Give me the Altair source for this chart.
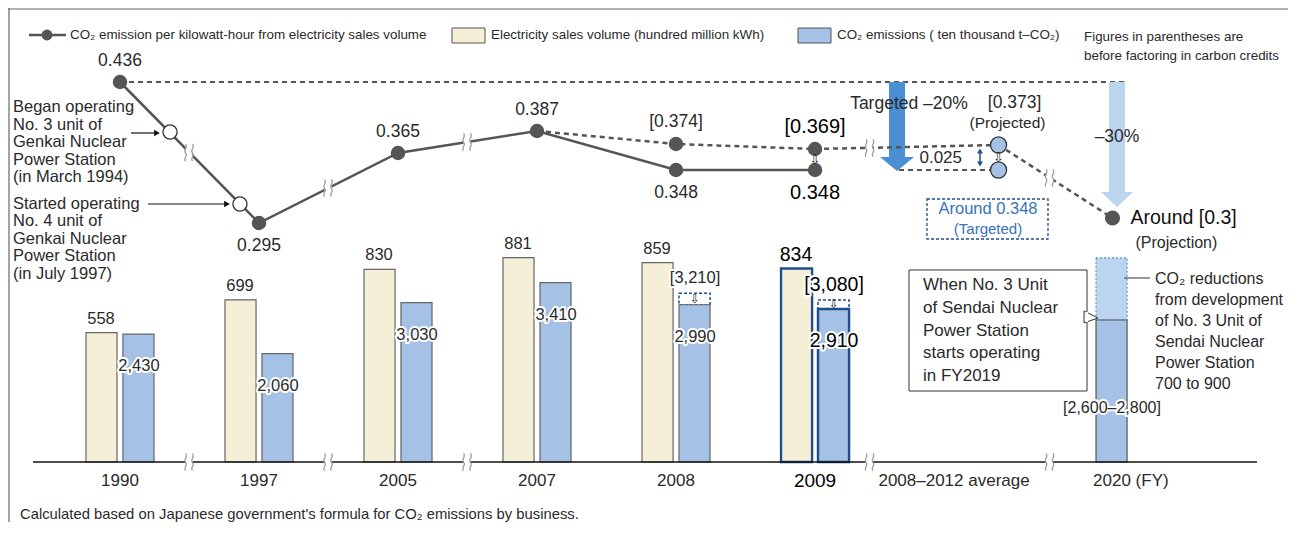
import altair as alt
import pandas as pd

# ------------------------------------------------------------------ data
groups = ["1990", "1997", "2005", "2007", "2008", "2009",
          "2008–2012 average", "2020"]
axis_labels = ["1990", "1997", "2005", "2007", "2008", "2009",
               "2008–2012 average", "2020 (FY)"]

hist_years = ["1990", "1997", "2005", "2007", "2008", "2009"]
intensity = [0.436, 0.295, 0.365, 0.387, 0.348, 0.348]          # kg-CO2 / kWh
sales_volume = [558, 699, 830, 881, 859, 834]                    # 100 million kWh
co2_emissions = [2430, 2060, 3030, 3410, 2990, 2910]             # 10 thousand t-CO2

credit_years = ["2007", "2008", "2009"]
intensity_before_credits = [0.387, 0.374, 0.369]
co2_credit_years = ["2008", "2009"]
co2_before_credits = [3210, 3080]

avg_group = "2008–2012 average"
avg_projected = 0.373
avg_targeted = 0.348
group_2020 = "2020"
intensity_2020 = 0.3
co2_2020 = 2700
co2_2020_before_sendai = 3880

milestone_groups = ["1990", "1997"]
milestone_values = [0.386, 0.314]

# ------------------------------------------------------------------ layout / style
W, H = 1280, 514
FONT = "Liberation Sans"
SYM = "DejaVu Sans"
INK = "#2a2a2a"
LINE = "#555555"
BEIGE = "#f5efd8"
BLUE = "#a5c1e5"
NAVY = "#1f4e8c"
AVG_BP = 0.82
P20_BP = 0.64

BASE = 454          # plot-y of the bar baseline
LINE_PX = 1000.0    # px per kg-CO2/kWh
SALES_PX = 0.232    # px per 100 million kWh
CO2_PX = 0.0526     # px per 10 thousand t

X = alt.Scale(type="band", domain=groups, paddingInner=0, paddingOuter=0.604, align=0.253)
XOFF = alt.Scale(domain=["sales", "co2"], paddingInner=0.16, paddingOuter=0.96)
_l1 = 0.436 + 74 / LINE_PX
Y_LINE = alt.Scale(domain=[_l1 - H / LINE_PX, _l1], nice=False, zero=False)
_s0 = -(H - BASE) / SALES_PX
Y_SALES = alt.Scale(domain=[_s0, _s0 + H / SALES_PX], nice=False, zero=False)
_c0 = -(H - BASE) / CO2_PX
Y_CO2 = alt.Scale(domain=[_c0, _c0 + H / CO2_PX], nice=False, zero=False)

ONE = pd.DataFrame({"k": [0]})
hl = "datum.group == '2009'"


def px(x):
    return x - 8


def py(y):
    return y - 8


def xg(field="group", bp=None):
    kw = dict(scale=X, axis=None)
    if bp is not None:
        kw["bandPosition"] = bp
    return alt.X(f"{field}:N", **kw)


def yl(field="value"):
    return alt.Y(f"{field}:Q", scale=Y_LINE, axis=None)


def note(text, x, y, size=17, align="left", color=INK, lh=None, font=FONT,
         baseline="middle", halo=False):
    kw = dict(text=text, align=align, baseline=baseline, fontSize=size,
              color=color, font=font)
    if "\n" in text:
        kw["lineBreak"] = "\n"
        if lh:
            kw["lineHeight"] = lh
    if halo:
        kw.update(stroke="white", strokeWidth=4, strokeJoin="round", color="white")
    return alt.Chart(ONE).mark_text(**kw).encode(x=alt.value(px(x)), y=alt.value(py(y)))


def rect(x0, y0, x1, y1, **kw):
    return alt.Chart(ONE).mark_rect(**kw).encode(
        x=alt.value(px(x0)), x2=alt.value(px(x1)),
        y=alt.value(py(y0)), y2=alt.value(py(y1)))


def hrule(x0, x1, y, **kw):
    return alt.Chart(ONE).mark_rule(**kw).encode(
        x=alt.value(px(x0)), x2=alt.value(px(x1)), y=alt.value(py(y)))


def sym(x, y, shape, size, **kw):
    kw.setdefault("opacity", 1)
    return alt.Chart(ONE).mark_point(shape=shape, size=size, **kw).encode(
        x=alt.value(px(x)), y=alt.value(py(y)))


def arrow_shape(total, shaft_half, head_half, head_len):
    u = total / 2
    a, b, c = shaft_half / u, head_half / u, 1 - head_len / u
    return (f"M{-a:.3f},-1L{a:.3f},-1L{a:.3f},{c:.3f}L{b:.3f},{c:.3f}"
            f"L0,1L{-b:.3f},{c:.3f}L{-a:.3f},{c:.3f}Z")


WAVES = ("M-0.45,-1C-0.1,-0.6,-0.8,-0.25,-0.45,0.05C-0.1,0.35,-0.8,0.7,-0.45,1"
         "M0.35,-1C0.7,-0.6,0,-0.25,0.35,0.05C0.7,0.35,0,0.7,0.35,1")
GAP = "M-0.45,-0.75L0.35,-0.75L0.35,0.75L-0.45,0.75Z"

L = []

# frame
L.append(alt.Chart(ONE).mark_rule(color="#666", strokeWidth=1.2).encode(
    x=alt.value(0), x2=alt.value(W), y=alt.value(1)))
L.append(alt.Chart(ONE).mark_rule(color="#666", strokeWidth=1.2).encode(
    x=alt.value(1), y=alt.value(0), y2=alt.value(H)))

# legend
L.append(hrule(29, 66, 35, color=LINE, strokeWidth=2.5))
L.append(sym(47, 35, "circle", 120, filled=True, color=LINE))
L.append(note("CO₂ emission per kilowatt-hour from electricity sales volume", 70, 35, size=13.4))
L.append(rect(452, 28, 485, 43, fill=BEIGE, stroke="#555", strokeWidth=1))
L.append(note("Electricity sales volume (hundred million kWh)", 491, 35, size=13.4))
L.append(rect(798, 28, 831, 43, fill=BLUE, stroke="#555", strokeWidth=1))
L.append(note("CO₂ emissions ( ten thousand t–CO₂)", 837, 35, size=13.4))
L.append(note("Figures in parentheses are\nbefore factoring in carbon credits", 1084, 29.5,
              size=13.4, lh=19, baseline="top"))

# reference level 1990 (dashed)
base_df = pd.DataFrame({"group": [hist_years[0]], "value": [intensity[0]]})
L.append(alt.Chart(base_df).mark_rule(color=LINE, strokeWidth=2.2, strokeDash=[5, 4])
         .encode(x=xg(), x2=alt.value(px(1125)), y=yl()))

# big arrows
L.append(sym(897, 126.5, arrow_shape(89, 8, 17, 14), 89 ** 2, filled=True,
             color="#4a8fd2", strokeWidth=0))
L.append(sym(1117, 144.5, arrow_shape(125, 8, 16, 15), 125 ** 2, filled=True,
             color="#bcd5ef", strokeWidth=0))

# targeted level dashed
tgt_df = pd.DataFrame({"value": [avg_targeted]})
L.append(alt.Chart(tgt_df).mark_rule(color=LINE, strokeWidth=2.2, strokeDash=[5, 4])
         .encode(x=alt.value(px(899)), x2=alt.value(px(990)), y=yl()))

# bars
sales_df = pd.DataFrame({"group": hist_years, "value": sales_volume})
co2_df = pd.DataFrame({"group": hist_years, "value": co2_emissions})
cb_df = pd.DataFrame({"group": co2_credit_years, "hi": co2_before_credits,
                      "lo": [co2_emissions[hist_years.index(g)] for g in co2_credit_years]})

L.append(alt.Chart(sales_df).transform_calculate(series="'sales'").mark_bar(fill=BEIGE).encode(
    x=xg(), xOffset=alt.XOffset("series:N", scale=XOFF),
    y=alt.Y("value:Q", scale=Y_SALES, axis=None), y2=alt.datum(0),
    stroke=alt.condition(hl, alt.value(NAVY), alt.value("#666")),
    strokeWidth=alt.condition(hl, alt.value(2.4), alt.value(1.2))))
L.append(alt.Chart(cb_df).transform_calculate(series="'co2'").mark_bar(
    fill="white", stroke=NAVY, strokeWidth=1.5, strokeDash=[3, 2]).encode(
    x=xg(), xOffset=alt.XOffset("series:N", scale=XOFF),
    y=alt.Y("hi:Q", scale=Y_CO2, axis=None), y2="lo:Q"))
L.append(alt.Chart(co2_df).transform_calculate(series="'co2'").mark_bar(fill=BLUE).encode(
    x=xg(), xOffset=alt.XOffset("series:N", scale=XOFF),
    y=alt.Y("value:Q", scale=Y_CO2, axis=None), y2=alt.datum(0),
    stroke=alt.condition(hl, alt.value(NAVY), alt.value("#666")),
    strokeWidth=alt.condition(hl, alt.value(2.4), alt.value(1.2))))
L.append(alt.Chart(cb_df).transform_calculate(mid="(datum.hi + datum.lo) / 2").mark_text(
    text="⇩", font=SYM, fontSize=12, color="#222", dx=19, baseline="middle").encode(
    x=xg(), y=alt.Y("mid:Q", scale=Y_CO2, axis=None)))

b20 = pd.DataFrame({"group": [group_2020], "value": [co2_2020], "top": [co2_2020_before_sendai]})
L.append(alt.Chart(b20).transform_calculate(series="'co2'").mark_bar(
    fill="#bcd5ef", stroke="#5b93d6", strokeDash=[2, 2], strokeWidth=1.2).encode(
    x=xg(), xOffset=alt.XOffset("series:N", scale=XOFF),
    y=alt.Y("top:Q", scale=Y_CO2, axis=None), y2="value:Q"))
L.append(alt.Chart(b20).transform_calculate(series="'co2'").mark_bar(
    fill=BLUE, stroke="#555", strokeWidth=1.2).encode(
    x=xg(), xOffset=alt.XOffset("series:N", scale=XOFF),
    y=alt.Y("value:Q", scale=Y_CO2, axis=None), y2=alt.datum(0)))

# axis baseline
L.append(hrule(33, 1257, 462, color="#111", strokeWidth=1.5))

# lines
line_df = pd.DataFrame({"group": hist_years, "value": intensity})
credit_df = pd.DataFrame({"group": credit_years, "value": intensity_before_credits})
L.append(alt.Chart(line_df).mark_line(color=LINE, strokeWidth=2.5).encode(x=xg(), y=yl()))
L.append(alt.Chart(credit_df).mark_line(color=LINE, strokeWidth=2.5, strokeDash=[5, 4])
         .encode(x=xg(), y=yl()))
seg1 = pd.DataFrame({"g1": [credit_years[-1]], "v1": [intensity_before_credits[-1]],
                     "g2": [avg_group], "v2": [avg_projected]})
seg2 = pd.DataFrame({"g1": [avg_group], "v1": [avg_projected],
                     "g2": [group_2020], "v2": [intensity_2020]})
L.append(alt.Chart(seg1).mark_rule(color=LINE, strokeWidth=2.5, strokeDash=[5, 4]).encode(
    x=xg("g1"), x2=alt.X2("g2:N", bandPosition=AVG_BP), y=yl("v1"), y2=alt.Y2("v2:Q")))
L.append(alt.Chart(seg2).mark_rule(color=LINE, strokeWidth=2.5, strokeDash=[5, 4]).encode(
    x=xg("g1", AVG_BP), x2=alt.X2("g2:N", bandPosition=P20_BP), y=yl("v1"), y2=alt.Y2("v2:Q")))

# break marks (wavy double strokes with a white gap)
for bx, by in [(189.5, 152.5), (328.5, 188), (467.5, 142), (870, 148), (1050, 178),
               (189.5, 462), (328.5, 462), (467.5, 462), (870, 462), (1050, 462)]:
    L.append(sym(bx, by, GAP, 300, filled=True, color="white", strokeWidth=0))
    L.append(sym(bx, by, WAVES, 300, filled=False, color="#9a9a9a", strokeWidth=1.2))

# points
L.append(alt.Chart(line_df).mark_circle(size=210, color=LINE, opacity=1).encode(x=xg(), y=yl()))
L.append(alt.Chart(credit_df).transform_filter("datum.group != '2007'")
         .mark_circle(size=210, color=LINE, opacity=1).encode(x=xg(), y=yl()))
ms_df = pd.DataFrame({"group": milestone_groups, "value": milestone_values})
for g, bp in [("1990", 0.86), ("1997", 0.363)]:
    L.append(alt.Chart(ms_df).transform_filter(f"datum.group == '{g}'").mark_point(
        shape="circle", filled=True, fill="white", stroke="#333", strokeWidth=1.3,
        size=200, opacity=1).encode(x=xg(bp=bp), y=yl()))
avg_df = pd.DataFrame({"group": [avg_group, avg_group], "value": [avg_projected, avg_targeted]})
L.append(alt.Chart(avg_df).mark_point(shape="circle", filled=True, fill=BLUE, stroke="#333",
                                      strokeWidth=1.3, size=260, opacity=1)
         .encode(x=xg(bp=AVG_BP), y=yl()))
p20 = pd.DataFrame({"group": [group_2020], "value": [intensity_2020]})
L.append(alt.Chart(p20).mark_circle(size=230, color=LINE, opacity=1).encode(x=xg(bp=P20_BP), y=yl()))

# small down arrows on the line chart
dn_df = pd.DataFrame({"group": ["2009"], "value": [(intensity_before_credits[-1] + intensity[-1]) / 2]})
L.append(alt.Chart(dn_df).mark_text(text="⇩", font=SYM, fontSize=13, color="#222", baseline="middle")
         .encode(x=xg(), y=yl()))
dn2 = pd.DataFrame({"group": [avg_group], "value": [(avg_projected + avg_targeted) / 2]})
L.append(alt.Chart(dn2).mark_text(text="⇩", font=SYM, fontSize=13, color="#222", baseline="middle")
         .encode(x=xg(bp=AVG_BP), y=yl()))

# line value labels
above = "indexof(['1990','2005','2007'], datum.group) >= 0"
L.append(alt.Chart(line_df).transform_filter(above)
         .transform_calculate(t="format(datum.value, '.3f')")
         .mark_text(font=FONT, fontSize=17.5, color=INK, dy=-21, baseline="middle")
         .encode(x=xg(), y=yl(), text="t:N"))
L.append(alt.Chart(line_df).transform_filter("!(" + above + ")")
         .transform_calculate(t="format(datum.value, '.3f')")
         .mark_text(font=FONT, dy=23, baseline="middle")
         .encode(x=xg(), y=yl(), text="t:N",
                 size=alt.condition(hl, alt.value(20), alt.value(17.5)),
                 color=alt.condition(hl, alt.value("#000"), alt.value(INK))))
L.append(alt.Chart(credit_df).transform_filter("datum.group != '2007'")
         .transform_calculate(t="'[' + format(datum.value, '.3f') + ']'")
         .mark_text(font=FONT, dy=-22, baseline="middle")
         .encode(x=xg(), y=yl(), text="t:N",
                 size=alt.condition(hl, alt.value(20), alt.value(17.5)),
                 color=alt.condition(hl, alt.value("#000"), alt.value(INK))))
pj = pd.DataFrame({"group": [avg_group], "value": [avg_projected]})
L.append(alt.Chart(pj).transform_calculate(t="'[' + format(datum.value, '.3f') + ']'")
         .mark_text(font=FONT, fontSize=17.5, color=INK, dy=-42, dx=16, baseline="middle")
         .encode(x=xg(bp=AVG_BP), y=yl(), text="t:N"))
L.append(alt.Chart(pj).mark_text(text="(Projected)", font=FONT, fontSize=15.5, color=INK,
                                 dy=-22, dx=9, baseline="middle")
         .encode(x=xg(bp=AVG_BP), y=yl()))
L.append(alt.Chart(p20).transform_calculate(t="'Around [' + format(datum.value, '.1f') + ']'")
         .mark_text(font=FONT, fontSize=19.5, color="#111", dx=18, align="left", baseline="middle")
         .encode(x=xg(bp=P20_BP), y=yl(), text="t:N"))
L.append(alt.Chart(p20).mark_text(text="(Projection)", font=FONT, fontSize=16, color=INK,
                                  dx=23, dy=25, align="left", baseline="middle")
         .encode(x=xg(bp=P20_BP), y=yl()))

# bar value labels
L.append(alt.Chart(sales_df).mark_text(font=FONT, dx=-19, dy=-14, baseline="middle").encode(
    x=xg(), y=alt.Y("value:Q", scale=Y_SALES, axis=None), text=alt.Text("value:Q", format=","),
    size=alt.condition(hl, alt.value(19.5), alt.value(16.5)),
    color=alt.condition(hl, alt.value("#000"), alt.value(INK))))
for halo in (True, False):
    kw = dict(stroke="white", strokeWidth=4, strokeJoin="round") if halo else {}
    L.append(alt.Chart(co2_df).mark_text(font=FONT, dx=19, dy=32, baseline="middle", **kw).encode(
        x=xg(), y=alt.Y("value:Q", scale=Y_CO2, axis=None), text=alt.Text("value:Q", format=","),
        size=alt.condition(hl, alt.value(19.5), alt.value(16.5)),
        color=alt.value("white") if halo else alt.condition(hl, alt.value("#000"), alt.value(INK))))
    L.append(alt.Chart(cb_df).transform_calculate(t="'[' + format(datum.hi, ',') + ']'")
             .mark_text(font=FONT, dx=19, dy=-15, baseline="middle", **kw).encode(
        x=xg(), y=alt.Y("hi:Q", scale=Y_CO2, axis=None), text="t:N",
        size=alt.condition(hl, alt.value(19.5), alt.value(16.5)),
        color=alt.value("white") if halo else alt.condition(hl, alt.value("#000"), alt.value(INK))))
L.append(note("[2,600–2,800]", 1112, 408, size=16, align="center", halo=True))
L.append(note("[2,600–2,800]", 1112, 408, size=16, align="center"))

# axis labels
ax_df = pd.DataFrame({"group": groups[:7], "label": axis_labels[:7]})
L.append(alt.Chart(ax_df).mark_text(font=FONT, baseline="middle").encode(
    x=xg(), y=alt.value(py(481)), text="label:N",
    size=alt.condition(hl, alt.value(19), alt.value(17)),
    color=alt.condition(hl, alt.value("#000"), alt.value(INK))))
ax20 = pd.DataFrame({"group": [groups[7]], "label": [axis_labels[7]]})
L.append(alt.Chart(ax20).mark_text(font=FONT, fontSize=17, color=INK, align="left", baseline="middle")
         .encode(x=xg(), y=alt.value(py(481)), text="label:N"))

# annotations
L.append(note("Targeted –20%", 909, 104, size=17.5, align="center"))
L.append(note("–30%", 1117, 137, size=17.5, align="center"))
L.append(note("0.025", 962, 158, size=17, align="right"))
L.append(alt.Chart(ONE).mark_rule(color=NAVY, strokeWidth=1.5).encode(
    x=alt.value(px(980)), y=alt.value(py(151)), y2=alt.value(py(164))))
L.append(sym(980, 151, "triangle-up", 35, filled=True, color=NAVY))
L.append(sym(980, 164, "triangle-down", 35, filled=True, color=NAVY))
L.append(rect(927, 199, 1048, 239, fill="white", fillOpacity=0, stroke=NAVY, strokeWidth=1.3,
              strokeDash=[3, 2]))
L.append(note("Around 0.348", 988, 209, size=16.5, align="center", color="#3673b8"))
L.append(note("(Targeted)", 988, 229, size=15, align="center", color="#3673b8"))

L.append(note("Began operating\nNo. 3 unit of\nGenkai Nuclear\nPower Station\n(in March 1994)",
              13, 99, size=16.5, lh=17.6, baseline="top"))
L.append(note("Started operating\nNo. 4 unit of\nGenkai Nuclear\nPower Station\n(in July 1997)",
              13, 196, size=16.5, lh=17.4, baseline="top"))
L.append(hrule(131, 156, 133, color="#111", strokeWidth=1.2))
L.append(sym(157, 133, "triangle-right", 45, filled=True, color="#111"))
L.append(hrule(148, 226, 204, color="#111", strokeWidth=1.2))
L.append(sym(227, 204, "triangle-right", 45, filled=True, color="#111"))

# callout box
L.append(rect(909, 270, 1087, 391, fill="white", stroke="#333", strokeWidth=1))
L.append(sym(1091, 318, "M-1,-1L1,0L-1,0.7Z", 196, filled=True, fill="white", stroke="#333",
             strokeWidth=1))
L.append(alt.Chart(ONE).mark_rule(color="white", strokeWidth=2).encode(
    x=alt.value(px(1087)), y=alt.value(py(312)), y2=alt.value(py(322))))
L.append(note("When No. 3 Unit\nof Sendai Nuclear\nPower Station\nstarts operating\nin FY2019",
              923, 277, size=17, lh=22.8, baseline="top"))
L.append(hrule(1124, 1150, 278, color="#333", strokeWidth=1))
L.append(note("CO₂ reductions\nfrom development\nof No. 3 Unit of\nSendai Nuclear\nPower Station\n700 to 900",
              1155, 271, size=16, lh=21, baseline="top"))

# footnote
L.append(note("Calculated based on Japanese government's formula for CO₂ emissions by business.",
              20, 515, size=14.8))

chart = (alt.layer(*L)
         .properties(width=W, height=H, padding=0, autosize=alt.AutoSizeParams(type="none"))
         .resolve_scale(y="independent")
         .configure_view(strokeWidth=0))

chart.save("out.html", embed_options={"renderer": "svg", "actions": False})
